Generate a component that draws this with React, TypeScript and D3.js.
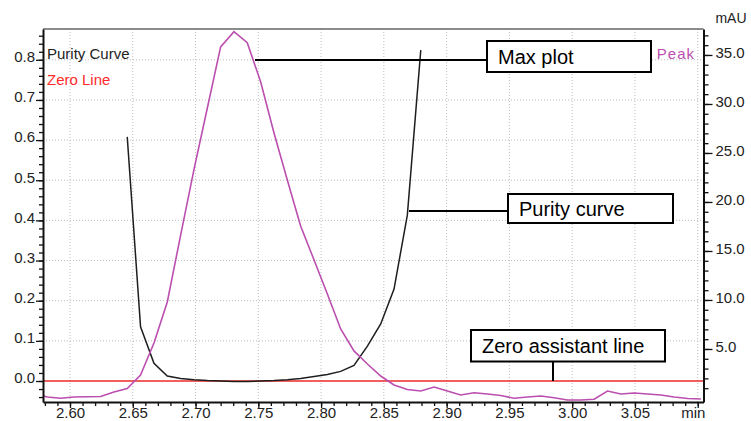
import React, { useEffect, useRef } from "react";
import * as d3 from "d3";

// sample times (min)
const sampleTimes = [
  2.5712, 2.5819, 2.5925, 2.6031, 2.6137, 2.6244, 2.635, 2.6456, 2.6562, 2.6669,
  2.6775, 2.6881, 2.6987, 2.7094, 2.72, 2.7306, 2.7412, 2.7519, 2.7625, 2.7731,
  2.7837, 2.7944, 2.805, 2.8156, 2.8262, 2.8369, 2.8475, 2.8581, 2.8687, 2.8794,
  2.89, 2.9006, 2.9112, 2.9219, 2.9325, 2.9431, 2.9537, 2.9644, 2.975, 2.9856,
  2.9962, 3.0069, 3.0175, 3.0281, 3.0387, 3.0494, 3.06, 3.0706, 3.0812, 3.0919,
  3.1025,
];

// Peak signal, mAU (right axis)
const peakValues = [
  0.46, 0.1, -0.03, 0.1, 0.12, 0.15, 0.61, 0.97, 2.35, 5.61,
  9.8, 16.6, 23.27, 29.59, 35.82, 37.38, 36.26, 32.24, 27.04, 22.24,
  17.55, 14.08, 10.61, 7.04, 4.8, 3.47, 2.24, 1.33, 0.87, 0.71,
  1.12, 0.71, 0.31, 0.54, 0.41, 0.26, -0.03, 0.1, 0.2, 0.03,
  -0.2, -0.2, -0.13, 0.71, 0.41, 0.51, 0.41, 0.31, 0.1, -0.05,
  -0.1,
];

// Purity curve (left axis), from 2.6456 to 2.8794
const purityTimes = sampleTimes.slice(7, 30);
const purityValues = [
  0.608, 0.135, 0.044, 0.0125, 0.006, 0.003, 0.001, 0.0, -0.001, -0.001,
  0.0, 0.001, 0.003, 0.006, 0.011, 0.016, 0.024, 0.039, 0.087, 0.142,
  0.229, 0.413, 0.824,
];

const zeroLineValue = 0;

const xMajorTicks = [2.6, 2.65, 2.7, 2.75, 2.8, 2.85, 2.9, 2.95, 3.0, 3.05, 3.1];
const leftMajorTicks = [0.0, 0.1, 0.2, 0.3, 0.4, 0.5, 0.6, 0.7, 0.8];
const rightMajorTicks = [5, 10, 15, 20, 25, 30, 35];

const W = 751;
const H = 421;
const box = { left: 43, right: 703.5, top: 29, bottom: 402 };
const FONT = "'Liberation Sans', Arial, sans-serif";

const App = () => {
  const ref = useRef<SVGSVGElement>(null);

  useEffect(() => {
    drawChart();
  }, []);

  function drawChart() {
    const svg = d3.select(ref.current);
    svg.selectAll("*").remove();

    const x = d3.scaleLinear().domain([2.5785, 3.1046]).range([box.left, box.right]);
    const yL = d3.scaleLinear().domain([-0.0523, 0.8767]).range([box.bottom, box.top]);
    const yR = d3.scaleLinear().domain([-0.41, 37.65]).range([box.bottom, box.top]);

    svg
      .append("defs")
      .append("clipPath")
      .attr("id", "plotclip")
      .append("rect")
      .attr("x", box.left)
      .attr("y", box.top)
      .attr("width", box.right - box.left)
      .attr("height", box.bottom - box.top);

    // grid
    const grid = svg.append("g").attr("stroke", "#bdbdbd").attr("stroke-dasharray", "1,2");
    xMajorTicks.forEach((t) => {
      grid.append("line").attr("x1", x(t)).attr("x2", x(t)).attr("y1", box.top).attr("y2", box.bottom);
    });
    leftMajorTicks.slice(1).forEach((v) => {
      grid.append("line").attr("x1", box.left).attr("x2", box.right).attr("y1", yL(v)).attr("y2", yL(v));
    });

    const plot = svg.append("g").attr("clip-path", "url(#plotclip)");

    // zero line
    plot
      .append("line")
      .attr("x1", box.left)
      .attr("x2", box.right)
      .attr("y1", yL(zeroLineValue))
      .attr("y2", yL(zeroLineValue))
      .attr("stroke", "#ee2a2a")
      .attr("stroke-width", 1.5);

    const purityLine = d3
      .line<number>()
      .x((_, i) => x(purityTimes[i]))
      .y((d) => yL(d));
    plot
      .append("path")
      .datum(purityValues)
      .attr("fill", "none")
      .attr("stroke", "#1e1e1e")
      .attr("stroke-width", 1.5)
      .attr("d", purityLine);

    const peakLine = d3
      .line<number>()
      .x((_, i) => x(sampleTimes[i]))
      .y((d) => yR(d));
    plot
      .append("path")
      .datum(peakValues)
      .attr("fill", "none")
      .attr("stroke", "#bb4fb0")
      .attr("stroke-width", 1.6)
      .attr("d", peakLine);

    // frame top
    svg
      .append("line")
      .attr("x1", box.left)
      .attr("x2", box.right)
      .attr("y1", box.top)
      .attr("y2", box.top)
      .attr("stroke", "#666")
      .attr("stroke-width", 1.5);

    // axes
    const styleAxis = (g: any) => {
      g.select(".domain").attr("stroke", "#111").attr("stroke-width", 2);
      g.selectAll(".tick line").attr("stroke", "#111").attr("stroke-width", 1.3);
      g.selectAll("text").attr("font-family", FONT).attr("font-size", 15).attr("fill", "#222");
    };

    const xMinor = d3.range(2.58, 3.105, 0.01).map((d) => +d.toFixed(2));
    svg
      .append("g")
      .attr("transform", `translate(0,${box.bottom})`)
      .call(d3.axisBottom(x).tickValues(xMinor).tickSize(4).tickSizeOuter(0).tickFormat(() => ""))
      .call(styleAxis);
    const xAx = svg
      .append("g")
      .attr("transform", `translate(0,${box.bottom})`)
      .call(
        d3
          .axisBottom(x)
          .tickValues(xMajorTicks)
          .tickSize(6)
          .tickSizeOuter(0)
          .tickFormat((d: any) => (Math.abs(d - 3.1) < 1e-6 ? "min" : d3.format(".2f")(d)))
      )
      .call(styleAxis);
    xAx.select(".domain").remove();
    xAx.selectAll("text").attr("y", 16).attr("dy", 0);
    xAx.selectAll("text").filter((d: any) => Math.abs(d - 3.1) < 1e-6).attr("x", -5);

    const leftMinor = d3.range(-0.04, 0.87, 0.02).map((d) => +d.toFixed(2));
    svg
      .append("g")
      .attr("transform", `translate(${box.left},0)`)
      .call(d3.axisLeft(yL).tickValues(leftMinor).tickSize(4).tickSizeOuter(0).tickFormat(() => ""))
      .call(styleAxis);
    const lAx = svg
      .append("g")
      .attr("transform", `translate(${box.left},0)`)
      .call(d3.axisLeft(yL).tickValues(leftMajorTicks).tickSize(7).tickSizeOuter(0).tickPadding(1).tickFormat(d3.format(".1f")))
      .call(styleAxis);
    lAx.select(".domain").remove();
    lAx.selectAll("text").attr("y", -3);

    const rightMinor = d3.range(1, 38, 1);
    svg
      .append("g")
      .attr("transform", `translate(${box.right},0)`)
      .call(d3.axisRight(yR).tickValues(rightMinor).tickSize(5).tickSizeOuter(0).tickFormat(() => ""))
      .call(styleAxis);
    const rAx = svg
      .append("g")
      .attr("transform", `translate(${box.right},0)`)
      .call(d3.axisRight(yR).tickValues(rightMajorTicks).tickSize(9).tickSizeOuter(0).tickPadding(3).tickFormat(d3.format(".1f")))
      .call(styleAxis);
    rAx.select(".domain").remove();
    rAx.selectAll("text").attr("y", -2);

    svg
      .append("text")
      .attr("x", 731)
      .attr("y", 23)
      .attr("text-anchor", "middle")
      .attr("font-family", FONT)
      .attr("font-size", 14)
      .attr("fill", "#222")
      .text("mAU");

    // legend texts
    const legend = [
      { label: "Purity Curve", color: "#222", x: 47, y: 59, anchor: "start", ls: 0 },
      { label: "Zero Line", color: "#ff2a2a", x: 47, y: 85, anchor: "start", ls: 0 },
      { label: "Peak", color: "#bb4fb0", x: 695, y: 59, anchor: "end", ls: 1 },
    ];
    legend.forEach((l) => {
      svg
        .append("text")
        .attr("x", l.x)
        .attr("y", l.y)
        .attr("text-anchor", l.anchor)
        .attr("font-family", FONT)
        .attr("font-size", 15)
        .attr("letter-spacing", l.ls)
        .attr("fill", l.color)
        .text(l.label);
    });

    // annotations
    const notes = [
      { label: "Max plot", bx: 487, by: 41, bw: 164, bh: 31, lx1: 255, ly1: 60, lx2: 487, ly2: 60 },
      { label: "Purity curve", bx: 508, by: 194, bw: 165, bh: 29, lx1: 409, ly1: 211, lx2: 508, ly2: 211 },
      { label: "Zero assistant line", bx: 471, by: 330, bw: 194, bh: 31.5, lx1: 553, ly1: 361.5, lx2: 553, ly2: yL(zeroLineValue) },
    ];
    notes.forEach((n) => {
      svg
        .append("line")
        .attr("x1", n.lx1)
        .attr("y1", n.ly1)
        .attr("x2", n.lx2)
        .attr("y2", n.ly2)
        .attr("stroke", "#000")
        .attr("stroke-width", 2);
      svg
        .append("rect")
        .attr("x", n.bx)
        .attr("y", n.by)
        .attr("width", n.bw)
        .attr("height", n.bh)
        .attr("fill", "#fff")
        .attr("stroke", "#000")
        .attr("stroke-width", 2);
      svg
        .append("text")
        .attr("x", n.bx + 11)
        .attr("y", n.by + n.bh / 2 + 7)
        .attr("font-family", FONT)
        .attr("font-size", 20)
        .attr("fill", "#000")
        .text(n.label);
    });
  }

  return (
    <svg
      ref={ref}
      width={W}
      height={H}
      style={{ position: "absolute", left: 0, top: 0, background: "#fff" }}
    />
  );
};

export default App;
